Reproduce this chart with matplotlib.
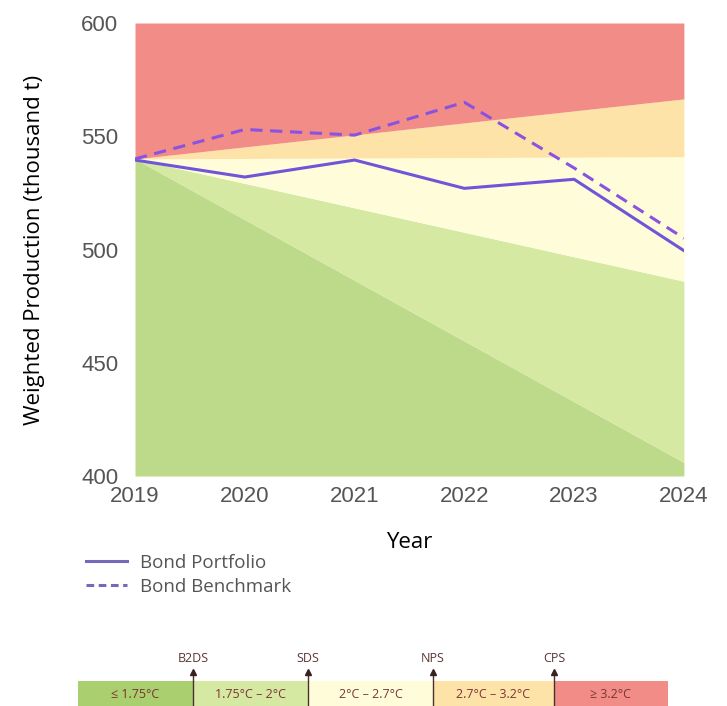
import matplotlib.pyplot as plt
from matplotlib.lines import Line2D

years = [2019, 2020, 2021, 2022, 2023, 2024]
portfolio = [539.5, 532, 539.5, 527, 531, 499.5]
benchmark = [540, 553, 550.5, 565, 536, 505]

# scenario band edges (start 2019, end 2024)
b2ds = [540, 406]   # <= 1.75C upper edge
sds = [540, 486]    # 1.75-2C upper edge
nps = [540, 541]    # 2-2.7C upper edge
cps = [540, 566.5]  # 2.7-3.2C upper edge

band_labels = ['≤ 1.75°C', '1.75°C – 2°C', '2°C – 2.7°C', '2.7°C – 3.2°C', '≥ 3.2°C']
band_colors = ['#bdd98a', '#d6e9a3', '#fffdd9', '#fde3a8', '#f28c87']
scen_names = ['B2DS', 'SDS', 'NPS', 'CPS']

fig = plt.figure(figsize=(7.27, 7.06), dpi=100)
ax = fig.add_axes([0.1857, 0.3258, 0.755, 0.6416])

ends = [years[0], years[-1]]
edges = [[400, 400], b2ds, sds, nps, cps, [600, 600]]
for i in range(5):
    ax.fill_between(ends, edges[i], edges[i + 1], color=band_colors[i], lw=0)

ax.plot(years, portfolio, color='#6f55d8', lw=2.2)
ax.plot(years, benchmark, color='#8a52e0', lw=2.2, ls=(0, (4, 2.5)))

ax.set_xlim(2019, 2024)
ax.set_ylim(400, 600)
ax.set_xticks(years)
ax.set_yticks([400, 450, 500, 550, 600])
for s in ax.spines.values():
    s.set_visible(False)
ax.tick_params(length=0, labelsize=16, labelcolor='#555555')
for lab in ax.get_xticklabels() + ax.get_yticklabels():
    lab.set_family('Liberation Sans')
ax.tick_params(axis='y', pad=12)
ax.tick_params(axis='x', pad=7)
ax.set_ylabel('Weighted Production (thousand t)', fontsize=16, family='Open Sans', labelpad=26)
ax.set_xlabel('Year', fontsize=16, family='Open Sans', labelpad=18)

# legend
handles = [Line2D([], [], color='#7768bb', lw=2.2),
           Line2D([], [], color='#7768bb', lw=2.2, ls=(0, (2.5, 1.5)))]
leg = ax.legend(handles, ['Bond Portfolio', 'Bond Benchmark'], loc='upper left',
                bbox_to_anchor=(-0.12, -0.135), frameon=False,
                handlelength=2.2, handletextpad=0.7, labelspacing=0.3,
                prop={'family': 'Open Sans', 'size': 13.5})
for t in leg.get_texts():
    t.set_color('#555555')

# temperature scale bar at the bottom (pixel coordinates)
bx = fig.add_axes([0, 0, 1, 1])
bx.set_xlim(0, 727)
bx.set_ylim(706, 0)
bx.axis('off')
seg_x = [78, 193, 308, 433, 554, 668]
for i in range(5):
    bx.add_patch(plt.Rectangle((seg_x[i], 681), seg_x[i + 1] - seg_x[i], 25,
                               color=band_colors[i] if i != 0 else '#a9cf6e', lw=0))
    bx.text((seg_x[i] + seg_x[i + 1]) / 2, 694, band_labels[i], ha='center', va='center',
            fontsize=9, color='#7a3535', family='Open Sans')
for i, name in enumerate(scen_names):
    x = seg_x[i + 1]
    bx.plot([x, x], [706, 674], color='#4a3030', lw=1)
    bx.plot([x], [672], marker='^', color='#3a2020', ms=5)
    bx.text(x, 658, name, ha='center', va='center', fontsize=9, color='#5a3535', family='Open Sans')

plt.savefig('out.png', dpi=100)
